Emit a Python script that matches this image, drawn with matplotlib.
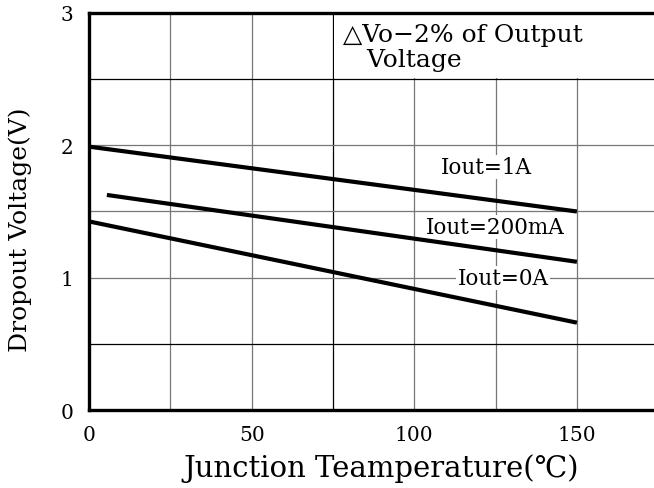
import matplotlib
matplotlib.use("Agg")
import matplotlib.pyplot as plt
from matplotlib.patches import Rectangle

# Dropout voltage vs junction temperature
series_labels = ["Iout=1A", "Iout=200mA", "Iout=0A"]
temp_start = [0, 5.5, 0]
temp_end = [150, 150, 150]
vdrop_start = [1.99, 1.625, 1.425]
vdrop_end = [1.50, 1.12, 0.66]

x_ticks = [0, 50, 100, 150]
y_ticks = [0, 1, 2, 3]

FONT = ["DejaVu Serif", "DejaVu Sans"]

fig = plt.figure(figsize=(6.54, 4.89), dpi=100)
ax = fig.add_axes([0.1361, 0.1595, 0.8639, 0.8119])

# grid (a few of the lines are drawn black in the original)
for gx in range(25, 200, 25):
    ax.axvline(gx, color="black" if gx == 75 else "#777777", lw=0.9,
               zorder=0.5)
for gy in [0.5, 1.0, 1.5, 2.0, 2.5]:
    ax.axhline(gy, color="black" if gy in (0.5, 2.5) else "#777777", lw=0.9,
               zorder=0.5)

# curves
for i, lab in enumerate(series_labels):
    ax.plot([temp_start[i], temp_end[i]], [vdrop_start[i], vdrop_end[i]],
            color="black", lw=3.0, solid_capstyle="butt", zorder=3)

# curve labels with white background
label_pos = [(122.3, 1.837), (124.8, 1.383), (127.3, 0.998)]
for lab, (lx, ly) in zip(series_labels, label_pos):
    ax.text(lx, ly, lab, ha="center", va="center", fontsize=15.5,
            family=FONT, zorder=2,
            bbox=dict(facecolor="white", edgecolor="none", pad=1.0))

# condition note in top right corner
ax.add_patch(Rectangle((75.4, 2.51), 120, 0.49, facecolor="white",
                       edgecolor="none", zorder=1))
ax.text(78.0, 2.74, "\u25b3Vo\u22122% of Output\n   Voltage", ha="left",
        va="center", fontsize=18, family=FONT, linespacing=1.1, zorder=2)

ax.set_xlim(0, 173.7)
ax.set_ylim(0, 3)
ax.set_xticks(x_ticks)
ax.set_yticks(y_ticks)
ax.tick_params(length=0, labelsize=14.5, pad=11)
for t in ax.get_xticklabels() + ax.get_yticklabels():
    t.set_family(FONT)

for side in ["left", "top", "bottom"]:
    ax.spines[side].set_linewidth(2.4)
    ax.spines[side].set_zorder(4)
ax.spines["right"].set_visible(False)

ax.set_xlabel("Junction Teamperature(\u2103)", fontsize=21, family=FONT)
ax.set_ylabel("Dropout Voltage(V)", fontsize=18, family=FONT)
ax.xaxis.set_label_coords(0.517, -0.108)
ax.yaxis.set_label_coords(-0.101, 0.456)

fig.savefig("out.png", dpi=100)
